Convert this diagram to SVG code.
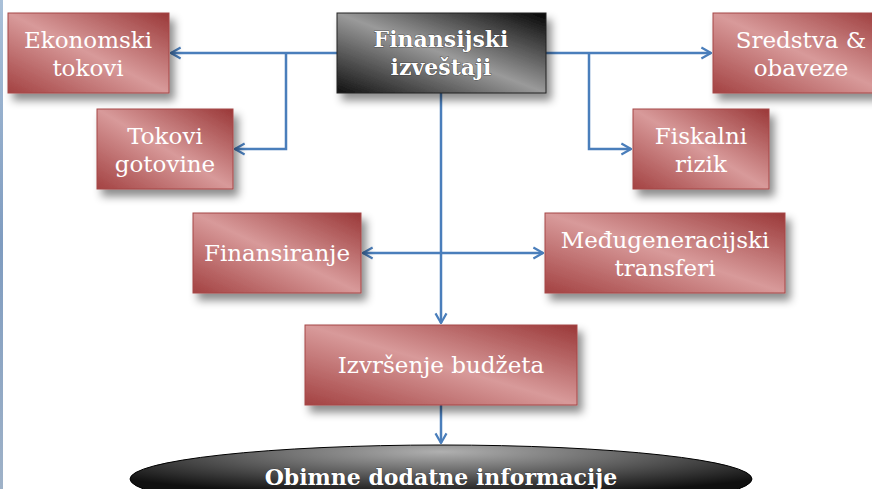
<svg xmlns="http://www.w3.org/2000/svg" width="872" height="489" viewBox="0 0 872 489">
<style>
.box{fill:url(#red);stroke:#a64646;stroke-width:1;filter:url(#sh)}
.dark{fill:url(#blk);stroke:#222;stroke-width:1;filter:url(#sh)}
.t{font-family:"DejaVu Serif","Liberation Serif",serif;font-size:23px;fill:#fff;text-anchor:middle}
.b{font-family:"DejaVu Serif","Liberation Serif",serif;font-size:22px;font-weight:bold;fill:#fff;text-anchor:middle;stroke:#222;stroke-width:0.6;paint-order:stroke}
.c{fill:none;stroke:#4a7ebb;stroke-width:2.5}
</style>
<defs>
<linearGradient id="red" x1="0" y1="1" x2="1" y2="0">
<stop offset="0" stop-color="#a34242"/>
<stop offset="0.5" stop-color="#d89a9a"/>
<stop offset="1" stop-color="#9a3838"/>
</linearGradient>
<linearGradient id="blk" x1="0" y1="1" x2="1" y2="0">
<stop offset="0" stop-color="#111"/>
<stop offset="0.5" stop-color="#9a9a9a"/>
<stop offset="1" stop-color="#050505"/>
</linearGradient>
<radialGradient id="ell" cx="0.5" cy="0.1" r="0.65">
<stop offset="0" stop-color="#b0b0b0"/>
<stop offset="1" stop-color="#101010"/>
</radialGradient>
<linearGradient id="edge" x1="0" y1="0" x2="0" y2="1">
<stop offset="0" stop-color="#aac0d8"/>
<stop offset="0.5" stop-color="#7f9cc0"/>
<stop offset="1" stop-color="#9fb2c8"/>
</linearGradient>
<filter id="sh" x="-20%" y="-20%" width="150%" height="160%">
<feDropShadow dx="5" dy="7" stdDeviation="4" flood-color="#000" flood-opacity="0.45"/>
</filter>
<marker id="ar" viewBox="0 0 10 10" refX="9" refY="5" markerWidth="5.5" markerHeight="5.5" orient="auto-start-reverse" markerUnits="strokeWidth">
<path d="M2,1 L9,5 L2,9" fill="none" stroke="#4a7ebb" stroke-width="1.6"/>
</marker>
</defs>
<rect width="872" height="489" fill="#fff"/>
<rect x="0" y="0" width="3" height="489" fill="url(#edge)"/>

<g id="connectors">
<path class="c" d="M337,53 H171" marker-end="url(#ar)"/>
<path class="c" d="M286,53 V149 H235" marker-end="url(#ar)"/>
<path class="c" d="M546,53 H711" marker-end="url(#ar)"/>
<path class="c" d="M589,53 V149 H631" marker-end="url(#ar)"/>
<path class="c" d="M441,93 V323" marker-end="url(#ar)"/>
<path class="c" d="M363,253 H543" marker-start="url(#ar)" marker-end="url(#ar)"/>
<path class="c" d="M441,405 V443" marker-end="url(#ar)"/>
</g>

<g id="ekonomski">
<rect class="box" x="8" y="13" width="161" height="80"/>
<text class="t" x="88" y="48">Ekonomski</text>
<text class="t" x="88" y="76">tokovi</text>
</g>
<g id="tokovi">
<rect class="box" x="97" y="109" width="136" height="80"/>
<text class="t" x="165" y="144">Tokovi</text>
<text class="t" x="165" y="172">gotovine</text>
</g>
<g id="finansijski">
<rect class="dark" x="337" y="13" width="209" height="80"/>
<text class="b" x="441" y="47">Finansijski</text>
<text class="b" x="441" y="75">izveštaji</text>
</g>
<g id="sredstva">
<rect class="box" x="713" y="13" width="176" height="80"/>
<text class="t" x="801" y="48">Sredstva &amp;</text>
<text class="t" x="801" y="76">obaveze</text>
</g>
<g id="fiskalni">
<rect class="box" x="633" y="109" width="136" height="80"/>
<text class="t" x="701" y="144">Fiskalni</text>
<text class="t" x="701" y="172">rizik</text>
</g>
<g id="finansiranje">
<rect class="box" x="193" y="213" width="168" height="80"/>
<text class="t" x="277" y="261">Finansiranje</text>
</g>
<g id="medjugeneracijski">
<rect class="box" x="545" y="213" width="240" height="80"/>
<text class="t" x="665" y="248">Međugeneracijski</text>
<text class="t" x="665" y="276">transferi</text>
</g>
<g id="izvrsenje">
<rect class="box" x="305" y="325" width="272" height="80"/>
<text class="t" x="441" y="373">Izvršenje budžeta</text>
</g>
<g id="obimne">
<ellipse cx="441" cy="479" rx="311" ry="34" fill="url(#ell)" stroke="#000" stroke-width="1"/>
<text class="b" x="441" y="485">Obimne dodatne informacije</text>
</g>
</svg>
